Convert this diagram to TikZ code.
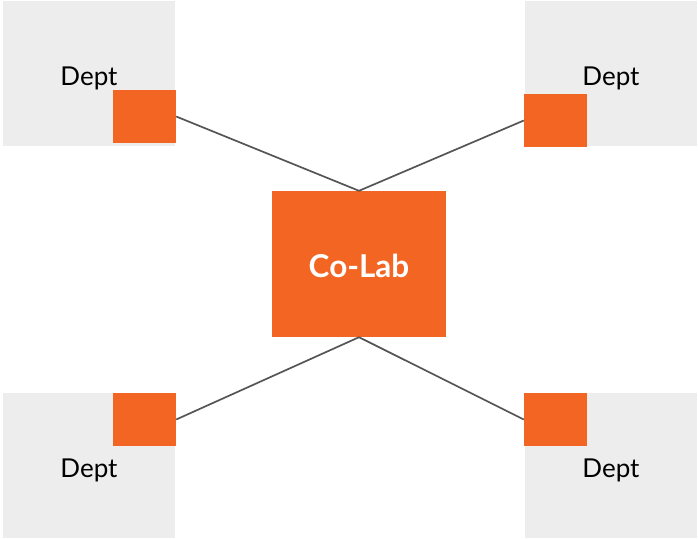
\documentclass[tikz,border=0pt]{standalone}
\usepackage{fontspec}
\setmainfont{Lato}
\definecolor{orng}{HTML}{F36523}
\definecolor{lgray}{HTML}{EDEDED}
\definecolor{lnk}{HTML}{555555}
\tikzset{
  deptbox/.style={fill=lgray, draw=none, minimum width=172pt, minimum height=145pt, inner sep=0pt},
  portbox/.style={fill=orng, draw=none, minimum width=63pt, minimum height=53pt, inner sep=0pt},
  hubbox/.style={fill=orng, draw=none, minimum width=174pt, minimum height=146pt, inner sep=0pt},
  depttext/.style={font=\fontsize{26}{30}\selectfont, text=black, inner sep=0pt},
  hubtext/.style={font=\fontsize{31.5}{36}\bfseries\selectfont, text=white, inner sep=0pt},
  link/.style={draw=lnk, line width=1.7pt}
}
\begin{document}
\begin{tikzpicture}[x=1pt,y=-1pt]
\useasboundingbox (0,0) rectangle (698,538);
\node[deptbox] (g1) at (89,73.5) {};
\node[deptbox] (g2) at (611,73.5) {};
\node[deptbox] (g3) at (89,465.5) {};
\node[deptbox] (g4) at (611,465.5) {};
\node[depttext, anchor=base] (t1) at (89,85) {Dept};
\node[depttext, anchor=base] (t2) at (611,85) {Dept};
\node[depttext, anchor=base] (t3) at (89,477) {Dept};
\node[depttext, anchor=base] (t4) at (611,477) {Dept};
\node[portbox] (p1) at (144.5,116.5) {};
\node[portbox] (p2) at (555.5,120.5) {};
\node[portbox] (p3) at (144.5,419.5) {};
\node[portbox] (p4) at (555.5,419.5) {};
\node[hubbox] (hub) at (359,264) {};
\node[hubtext, anchor=base] (hl) at (359,277) {Co-Lab};
\draw[link] (p1.east) -- (hub.north);
\draw[link] (p2.west) -- (hub.north);
\draw[link] (hub.south) -- (p3.east);
\draw[link] (hub.south) -- (p4.west);
\end{tikzpicture}
\end{document}
